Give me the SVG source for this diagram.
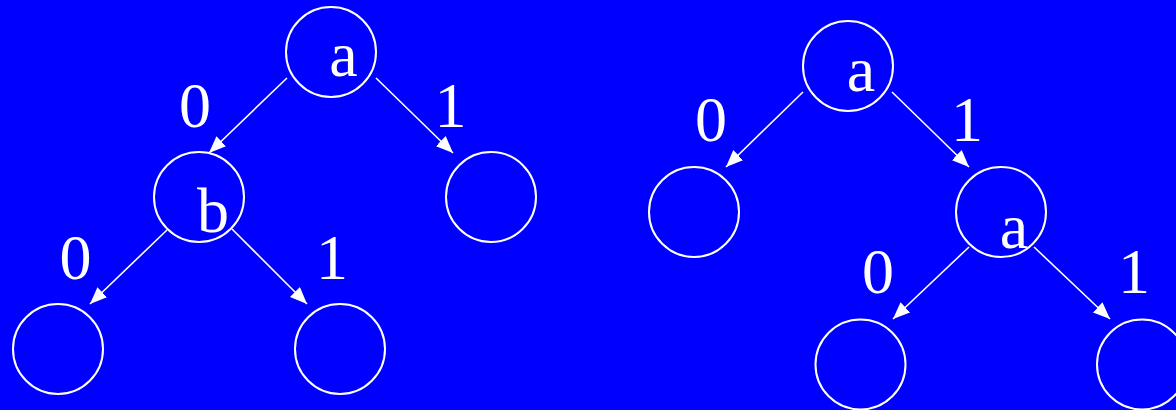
<svg xmlns="http://www.w3.org/2000/svg" width="1176" height="410" viewBox="0 0 1176 410">
<style>
.n{fill:none;stroke:#fff;stroke-width:2}
.e{stroke:#fff;stroke-width:1.6;fill:none;marker-end:url(#ah)}
.t{font-family:'Liberation Serif',serif;font-size:64px;fill:#fff;text-anchor:middle}
</style>
<defs>
<marker id="ah" markerUnits="userSpaceOnUse" markerWidth="18" markerHeight="15" refX="17" refY="7" orient="auto">
<path d="M0,0 L17,7 L0,14 z" fill="#fff"/>
</marker>
</defs>
<rect width="1176" height="410" fill="#0000ff"/>
<g id="connectors">
<line class="e" x1="287" y1="78" x2="209" y2="153"/>
<line class="e" x1="376" y1="78" x2="453" y2="153"/>
<line class="e" x1="167" y1="230" x2="90" y2="304"/>
<line class="e" x1="232" y1="229" x2="307" y2="304"/>
<line class="e" x1="803" y1="92" x2="726" y2="167"/>
<line class="e" x1="892" y1="92" x2="969" y2="167"/>
<line class="e" x1="969" y1="247" x2="893" y2="319"/>
<line class="e" x1="1034" y1="247" x2="1110" y2="319"/>
</g>
<g id="labels" class="t">
<text x="195" y="127">0</text>
<text x="450.5" y="127">1</text>
<text x="75.5" y="279">0</text>
<text x="332" y="279">1</text>
<text x="711" y="140.7">0</text>
<text x="967" y="140.7">1</text>
<text x="878" y="292.7">0</text>
<text x="1134" y="292.7">1</text>
</g>
<g id="L-root"><circle class="n" cx="331" cy="52" r="45"/><text class="t" x="343.5" y="76">a</text></g>
<g id="L-b"><circle class="n" cx="199" cy="197" r="45"/><text class="t" x="213" y="232">b</text></g>
<g id="L-r"><circle class="n" cx="491" cy="197" r="45"/></g>
<g id="L-bl"><circle class="n" cx="58" cy="349" r="45"/></g>
<g id="L-br"><circle class="n" cx="340" cy="349" r="45"/></g>
<g id="R-root"><circle class="n" cx="848" cy="66" r="45"/><text class="t" x="861" y="90.7">a</text></g>
<g id="R-l"><circle class="n" cx="694" cy="212" r="45"/></g>
<g id="R-a"><circle class="n" cx="1001" cy="212" r="45"/><text class="t" x="1014" y="248.3">a</text></g>
<g id="R-bl"><circle class="n" cx="860.5" cy="364.5" r="45"/></g>
<g id="R-br"><circle class="n" cx="1142" cy="364.5" r="45"/></g>
</svg>
